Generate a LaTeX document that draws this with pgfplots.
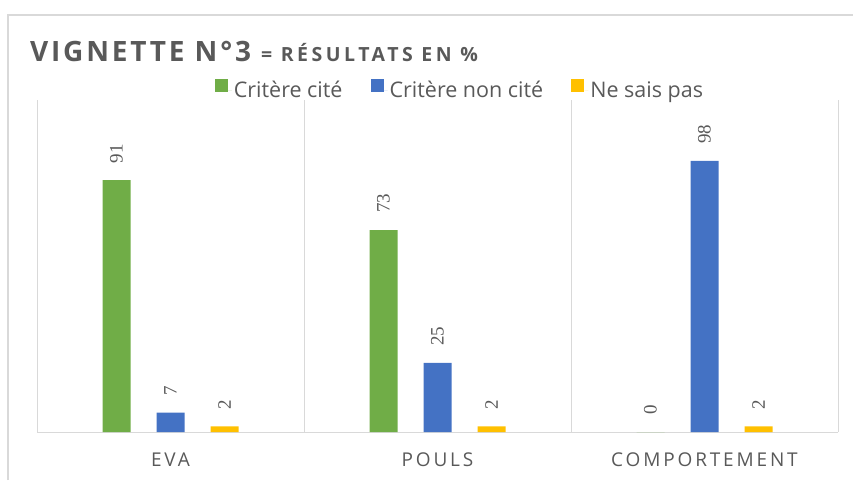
\documentclass[border=0pt]{standalone}
\usepackage{pgfplots}
\pgfplotsset{compat=1.18}
\usepackage{fontspec}
\setmainfont{Open Sans}
\newfontfamily\titlefont[LetterSpace=10]{Open Sans}
\newfontfamily\subtitlefont[LetterSpace=18]{Open Sans}
\newfontfamily\catfont[LetterSpace=15]{Open Sans}
\newfontfamily\valfont{Liberation Serif}
\definecolor{cgreen}{HTML}{70AD47}
\definecolor{cblue}{HTML}{4472C4}
\definecolor{cyellow}{HTML}{FFC000}
\definecolor{txtgray}{HTML}{595959}
\definecolor{linegray}{HTML}{D9D9D9}
\begin{document}
\begin{tikzpicture}[x=1pt,y=1pt]
\path[use as bounding box] (0,0) rectangle (853,480);
\draw[line width=2pt, linegray] (8,0) -- (8,465) -- (853,465);
\node[anchor=base west, inner sep=0pt, text=txtgray] at (30,418)
  {\titlefont\bfseries\fontsize{28}{30}\selectfont VIGNETTE N°3 \subtitlefont\bfseries\fontsize{19.5}{20}\selectfont = RÉSULTATS EN \%};
\begin{axis}[
  at={(37pt,48pt)}, anchor=south west,
  scale only axis, width=801pt, height=332pt,
  xmin=-0.5, xmax=2.5, ymin=0, ymax=120,
  axis x line*=bottom, axis y line=none,
  x axis line style={linegray, line width=1pt, -},
  xtick={0,1,2},
  xticklabels={EVA,POULS,COMPORTEMENT},
  minor xtick={-0.5,0.5,1.5,2.5},
  xminorgrids=true,
  minor grid style={linegray, line width=1pt},
  major tick length=0pt, minor tick length=0pt,
  xticklabel style={anchor=base, yshift=-34pt, font=\catfont\fontsize{19}{20}\selectfont, text=txtgray},
  ybar=26pt, bar width=28pt,
  nodes near coords,
  nodes near coords style={rotate=90, anchor=west, inner xsep=17pt, inner ysep=0pt,
    font=\valfont\fontsize{19}{20}\selectfont, text=txtgray},
  every node near coord/.append style={/pgf/number format/assume math mode=true},
  legend style={at={(0.528,1.03)}, anchor=center, draw=none, fill=none,
    legend columns=3, font=\fontsize{21.5}{22}\selectfont, text=txtgray,
    /tikz/every even column/.append style={column sep=26pt},
    inner sep=0pt},
  legend image code/.code={\fill[#1] (0pt,-2pt) rectangle (13pt,11pt);\path (13pt,0pt) -- (17pt,0pt);},
]
\addplot[fill=cgreen, draw=none] coordinates {(0,91) (1,73) (2,0)};
\addplot[fill=cblue, draw=none] coordinates {(0,7) (1,25) (2,98)};
\addplot[fill=cyellow, draw=none] coordinates {(0,2) (1,2) (2,2)};
\legend{Critère cité, Critère non cité, Ne sais pas}
\end{axis}
\end{tikzpicture}
\end{document}
